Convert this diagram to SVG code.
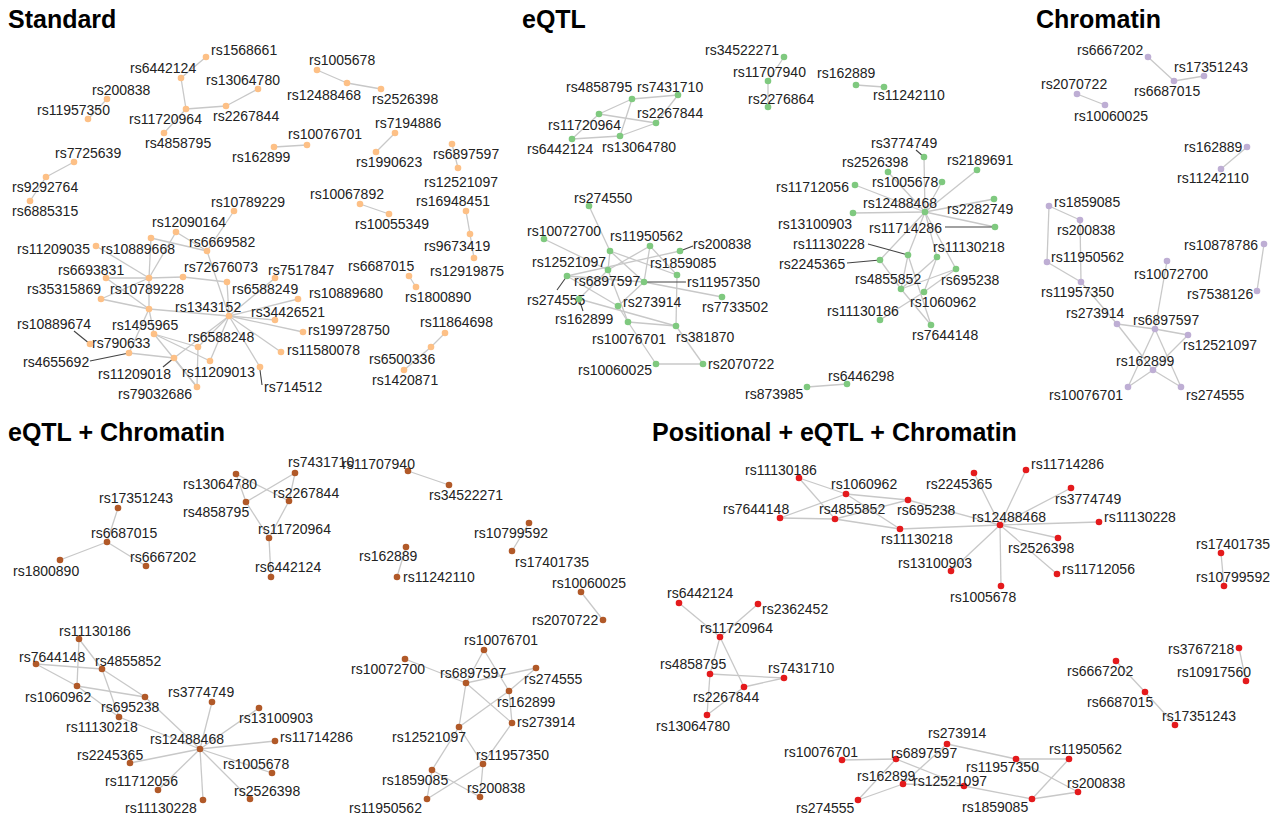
<svg xmlns="http://www.w3.org/2000/svg" width="1279" height="818" viewBox="0 0 1279 818">
<style>
text{font-family:"Liberation Sans",Arial,sans-serif;font-size:14px;fill:#222}
.t{font-size:25px;font-weight:bold;fill:#000}
.e line{stroke:#c8c8c8;stroke-width:1.3}
.ld line{stroke:#444;stroke-width:1.1}
circle{r:3.3px}
.s circle{fill:#fdc086}
.q circle{fill:#7fc97f}
.c circle{fill:#beaed4}
.b circle{fill:#b15928}
.p circle{fill:#e41a1c}
</style>
<rect width="1279" height="818" fill="#fff"/>
<g id="titles">
<text class="t" x="8" y="28">Standard</text>
<text class="t" x="522" y="28">eQTL</text>
<text class="t" x="1036" y="28">Chromatin</text>
<text class="t" x="8" y="441">eQTL + Chromatin</text>
<text class="t" x="652" y="441">Positional + eQTL + Chromatin</text>
</g>
<g id="connectors">
<g class="e">
<!-- Standard -->
<line x1="206" y1="57" x2="181" y2="78"/><line x1="181" y1="78" x2="186" y2="109"/><line x1="186" y1="109" x2="226" y2="106"/><line x1="226" y1="106" x2="258" y2="89"/><line x1="186" y1="109" x2="164" y2="133"/>
<line x1="107" y1="99" x2="88" y2="119"/><line x1="74" y1="162" x2="46" y2="177"/><line x1="46" y1="177" x2="30" y2="201"/>
<line x1="274" y1="147" x2="307" y2="145"/><line x1="317" y1="70" x2="347" y2="83"/><line x1="347" y1="83" x2="381" y2="89"/>
<line x1="395" y1="133" x2="376" y2="152"/><line x1="452" y1="144" x2="458" y2="168"/><line x1="360" y1="204" x2="389" y2="214"/>
<line x1="466" y1="211" x2="470" y2="234"/><line x1="470" y1="234" x2="474" y2="258"/><line x1="409" y1="276" x2="416" y2="287"/>
<line x1="445" y1="333" x2="431" y2="347"/><line x1="431" y1="347" x2="404" y2="370"/>
<line x1="234" y1="211" x2="207" y2="251"/><line x1="176" y1="232" x2="207" y2="251"/><line x1="151" y1="238" x2="207" y2="251"/>
<line x1="96" y1="246" x2="149" y2="278"/><line x1="176" y1="232" x2="149" y2="278"/><line x1="151" y1="238" x2="149" y2="278"/>
<line x1="106" y1="278" x2="149" y2="278"/><line x1="149" y1="278" x2="183" y2="277"/><line x1="183" y1="277" x2="227" y2="282"/>
<line x1="106" y1="278" x2="149" y2="309"/><line x1="101" y1="299" x2="149" y2="278"/><line x1="101" y1="299" x2="149" y2="309"/><line x1="149" y1="278" x2="149" y2="309"/>
<line x1="149" y1="309" x2="229" y2="316"/><line x1="207" y1="251" x2="229" y2="316"/><line x1="227" y1="282" x2="229" y2="316"/><line x1="275" y1="278" x2="229" y2="316"/>
<line x1="298" y1="299" x2="229" y2="316"/><line x1="275" y1="320" x2="229" y2="316"/><line x1="303" y1="332" x2="229" y2="316"/><line x1="281" y1="352" x2="229" y2="316"/>
<line x1="260" y1="367" x2="229" y2="316"/><line x1="210" y1="361" x2="229" y2="316"/><line x1="174" y1="358" x2="229" y2="316"/><line x1="198" y1="347" x2="229" y2="316"/>
<line x1="154" y1="334" x2="149" y2="309"/><line x1="154" y1="334" x2="198" y2="347"/><line x1="154" y1="334" x2="210" y2="361"/><line x1="154" y1="334" x2="197" y2="387"/>
<line x1="149" y1="309" x2="129" y2="353"/><line x1="129" y1="353" x2="174" y2="358"/><line x1="198" y1="347" x2="197" y2="387"/><line x1="174" y1="358" x2="197" y2="387"/>
<!-- eQTL -->
<line x1="632" y1="99" x2="599" y2="114"/><line x1="632" y1="99" x2="620" y2="136"/><line x1="632" y1="99" x2="678" y2="95"/><line x1="599" y1="114" x2="656" y2="123"/>
<line x1="572" y1="139" x2="620" y2="136"/><line x1="572" y1="139" x2="599" y2="114"/><line x1="656" y1="123" x2="678" y2="95"/><line x1="620" y1="136" x2="656" y2="123"/>
<line x1="784" y1="57" x2="768" y2="81"/><line x1="768" y1="81" x2="768" y2="107"/><line x1="856" y1="85" x2="884" y2="87"/>
<line x1="589" y1="206" x2="610" y2="251"/><line x1="544" y1="239" x2="608" y2="270"/><line x1="610" y1="251" x2="677" y2="275"/><line x1="610" y1="251" x2="608" y2="270"/>
<line x1="610" y1="251" x2="644" y2="282"/><line x1="650" y1="246" x2="608" y2="270"/><line x1="650" y1="246" x2="644" y2="282"/><line x1="650" y1="246" x2="677" y2="275"/>
<line x1="567" y1="276" x2="680" y2="251"/><line x1="677" y1="275" x2="676" y2="326"/><line x1="644" y1="282" x2="722" y2="297"/><line x1="644" y1="282" x2="618" y2="306"/>
<line x1="567" y1="276" x2="618" y2="306"/><line x1="608" y1="270" x2="628" y2="322"/><line x1="608" y1="270" x2="579" y2="299"/><line x1="579" y1="299" x2="676" y2="326"/>
<line x1="628" y1="322" x2="676" y2="326"/><line x1="628" y1="322" x2="656" y2="364"/><line x1="676" y1="326" x2="703" y2="364"/><line x1="656" y1="364" x2="703" y2="364"/>
<line x1="618" y1="306" x2="628" y2="322"/><line x1="567" y1="276" x2="644" y2="282"/>
<line x1="807" y1="387" x2="847" y2="384"/>
<line x1="925" y1="212" x2="924" y2="157"/><line x1="925" y1="212" x2="888" y2="172"/><line x1="925" y1="212" x2="942" y2="182"/><line x1="925" y1="212" x2="977" y2="170"/>
<line x1="925" y1="212" x2="855" y2="185"/><line x1="925" y1="212" x2="853" y2="213"/><line x1="925" y1="212" x2="994" y2="199"/><line x1="925" y1="212" x2="995" y2="227"/>
<line x1="925" y1="212" x2="908" y2="255"/><line x1="925" y1="212" x2="956" y2="269"/><line x1="925" y1="212" x2="880" y2="260"/><line x1="925" y1="212" x2="937" y2="257"/>
<line x1="880" y1="260" x2="901" y2="289"/><line x1="908" y1="255" x2="901" y2="289"/><line x1="908" y1="255" x2="931" y2="325"/><line x1="937" y1="257" x2="901" y2="289"/>
<line x1="937" y1="257" x2="924" y2="292"/><line x1="956" y1="269" x2="901" y2="289"/><line x1="956" y1="269" x2="924" y2="292"/><line x1="901" y1="289" x2="931" y2="325"/>
<line x1="924" y1="292" x2="880" y2="320"/>
<!-- Chromatin -->
<line x1="1148" y1="57" x2="1174" y2="81"/><line x1="1174" y1="81" x2="1204" y2="76"/><line x1="1077" y1="94" x2="1105" y2="105"/><line x1="1247" y1="147" x2="1221" y2="169"/>
<line x1="1049" y1="206" x2="1080" y2="220"/><line x1="1049" y1="206" x2="1047" y2="262"/><line x1="1080" y1="220" x2="1081" y2="282"/><line x1="1047" y1="262" x2="1081" y2="282"/>
<line x1="1081" y1="282" x2="1117" y2="324"/><line x1="1264" y1="244" x2="1257" y2="291"/><line x1="1167" y1="261" x2="1155" y2="329"/><line x1="1117" y1="324" x2="1155" y2="329"/>
<line x1="1155" y1="329" x2="1188" y2="335"/><line x1="1117" y1="324" x2="1153" y2="370"/><line x1="1188" y1="335" x2="1153" y2="370"/><line x1="1155" y1="329" x2="1128" y2="387"/>
<line x1="1155" y1="329" x2="1181" y2="387"/><line x1="1153" y1="370" x2="1128" y2="387"/><line x1="1153" y1="370" x2="1181" y2="387"/>
<!-- eQTL + Chromatin -->
<line x1="118" y1="508" x2="107" y2="542"/><line x1="107" y1="542" x2="60" y2="560"/><line x1="107" y1="542" x2="146" y2="566"/>
<line x1="236" y1="474" x2="289" y2="501"/><line x1="236" y1="474" x2="246" y2="502"/><line x1="246" y1="502" x2="295" y2="473"/><line x1="246" y1="502" x2="269" y2="538"/>
<line x1="295" y1="473" x2="289" y2="501"/><line x1="289" y1="501" x2="269" y2="538"/><line x1="269" y1="538" x2="271" y2="577"/>
<line x1="408" y1="471" x2="449" y2="485"/><line x1="529" y1="523" x2="512" y2="551"/><line x1="406" y1="547" x2="397" y2="577"/><line x1="581" y1="592" x2="603" y2="620"/>
<line x1="484" y1="650" x2="466" y2="683"/><line x1="484" y1="650" x2="509" y2="691"/><line x1="405" y1="659" x2="466" y2="683"/><line x1="466" y1="683" x2="536" y2="668"/>
<line x1="536" y1="668" x2="509" y2="691"/><line x1="466" y1="683" x2="512" y2="723"/><line x1="509" y1="691" x2="512" y2="723"/><line x1="509" y1="691" x2="459" y2="727"/>
<line x1="466" y1="683" x2="459" y2="727"/><line x1="459" y1="727" x2="483" y2="764"/><line x1="459" y1="727" x2="432" y2="770"/><line x1="512" y1="723" x2="483" y2="764"/>
<line x1="483" y1="764" x2="480" y2="797"/><line x1="483" y1="764" x2="427" y2="799"/><line x1="432" y1="770" x2="480" y2="797"/><line x1="432" y1="770" x2="427" y2="799"/>
<line x1="79" y1="639" x2="77" y2="686"/><line x1="79" y1="639" x2="102" y2="669"/><line x1="36" y1="664" x2="102" y2="669"/><line x1="36" y1="664" x2="77" y2="686"/>
<line x1="77" y1="686" x2="145" y2="697"/><line x1="102" y1="669" x2="145" y2="697"/><line x1="102" y1="669" x2="119" y2="717"/><line x1="77" y1="686" x2="119" y2="717"/>
<line x1="145" y1="697" x2="200" y2="749"/><line x1="119" y1="717" x2="200" y2="749"/><line x1="200" y1="749" x2="212" y2="702"/><line x1="200" y1="749" x2="259" y2="708"/>
<line x1="200" y1="749" x2="275" y2="741"/><line x1="200" y1="749" x2="130" y2="763"/><line x1="200" y1="749" x2="272" y2="773"/><line x1="200" y1="749" x2="158" y2="790"/>
<line x1="200" y1="749" x2="250" y2="799"/><line x1="200" y1="749" x2="203" y2="800"/>
<!-- Positional -->
<line x1="799" y1="478" x2="846" y2="494"/><line x1="799" y1="478" x2="835" y2="519"/><line x1="846" y1="494" x2="908" y2="500"/><line x1="846" y1="494" x2="780" y2="518"/>
<line x1="846" y1="494" x2="900" y2="529"/><line x1="780" y1="518" x2="835" y2="519"/><line x1="835" y1="519" x2="908" y2="500"/><line x1="835" y1="519" x2="900" y2="529"/>
<line x1="900" y1="529" x2="1000" y2="525"/><line x1="908" y1="500" x2="1000" y2="525"/>
<line x1="1000" y1="525" x2="974" y2="473"/><line x1="1000" y1="525" x2="1026" y2="470"/><line x1="1000" y1="525" x2="1071" y2="488"/><line x1="1000" y1="525" x2="1099" y2="522"/>
<line x1="1000" y1="525" x2="1058" y2="538"/><line x1="1000" y1="525" x2="1057" y2="574"/><line x1="1000" y1="525" x2="1001" y2="586"/><line x1="1000" y1="525" x2="951" y2="571"/>
<line x1="1221" y1="553" x2="1224" y2="586"/><line x1="1239" y1="648" x2="1246" y2="681"/><line x1="1116" y1="661" x2="1145" y2="692"/><line x1="1145" y1="692" x2="1175" y2="725"/>
<line x1="679" y1="603" x2="720" y2="637"/><line x1="758" y1="604" x2="720" y2="637"/><line x1="720" y1="637" x2="710" y2="674"/><line x1="720" y1="637" x2="744" y2="687"/>
<line x1="710" y1="674" x2="784" y2="678"/><line x1="784" y1="678" x2="744" y2="687"/><line x1="710" y1="674" x2="707" y2="715"/><line x1="707" y1="715" x2="744" y2="687"/>
<line x1="842" y1="760" x2="896" y2="759"/><line x1="896" y1="759" x2="858" y2="800"/><line x1="858" y1="800" x2="903" y2="784"/><line x1="903" y1="784" x2="947" y2="744"/>
<line x1="896" y1="759" x2="964" y2="786"/><line x1="903" y1="784" x2="964" y2="786"/><line x1="947" y1="744" x2="1016" y2="759"/><line x1="1016" y1="759" x2="1069" y2="759"/>
<line x1="1016" y1="759" x2="1078" y2="792"/><line x1="964" y1="786" x2="1032" y2="799"/><line x1="1032" y1="799" x2="1069" y2="759"/><line x1="1032" y1="799" x2="1078" y2="792"/>
</g>
<g class="ld">
<line x1="74" y1="331" x2="90" y2="344"/><line x1="90" y1="361" x2="129" y2="353"/><line x1="163" y1="367" x2="174" y2="358"/><line x1="260" y1="370" x2="262" y2="385"/>
<line x1="693" y1="246" x2="680" y2="251"/><line x1="686" y1="282" x2="644" y2="282"/><line x1="557" y1="290" x2="567" y2="276"/><line x1="583" y1="311" x2="579" y2="299"/>
<line x1="916" y1="150" x2="924" y2="157"/><line x1="945" y1="227" x2="995" y2="227"/><line x1="868" y1="244" x2="908" y2="255"/><line x1="847" y1="263" x2="880" y2="260"/>
</g>
</g>
<g id="nodes">
<g class="s">
<g id="s-rs1568661"><circle cx="206" cy="57"/><text x="211" y="55">rs1568661</text></g>
<g id="s-rs6442124"><circle cx="181" cy="78"/><text x="130" y="73">rs6442124</text></g>
<g id="s-rs13064780"><circle cx="258" cy="89"/><text x="206" y="85">rs13064780</text></g>
<g id="s-rs11720964"><circle cx="186" cy="109"/><text x="129" y="124">rs11720964</text></g>
<g id="s-rs2267844"><circle cx="226" cy="106"/><text x="213" y="121">rs2267844</text></g>
<g id="s-rs4858795"><circle cx="164" cy="133"/><text x="145" y="148">rs4858795</text></g>
<g id="s-rs200838"><circle cx="107" cy="99"/><text x="92" y="95">rs200838</text></g>
<g id="s-rs11957350"><circle cx="88" cy="119"/><text x="37" y="115">rs11957350</text></g>
<g id="s-rs7725639"><circle cx="74" cy="162"/><text x="55" y="158">rs7725639</text></g>
<g id="s-rs9292764"><circle cx="46" cy="177"/><text x="12" y="192">rs9292764</text></g>
<g id="s-rs6885315"><circle cx="30" cy="201"/><text x="12" y="216">rs6885315</text></g>
<g id="s-rs162899"><circle cx="274" cy="147"/><text x="232" y="162">rs162899</text></g>
<g id="s-rs10076701"><circle cx="307" cy="145"/><text x="288" y="139">rs10076701</text></g>
<g id="s-rs1005678"><circle cx="317" cy="70"/><text x="309" y="65">rs1005678</text></g>
<g id="s-rs12488468"><circle cx="347" cy="83"/><text x="287" y="100">rs12488468</text></g>
<g id="s-rs2526398"><circle cx="381" cy="89"/><text x="372" y="104">rs2526398</text></g>
<g id="s-rs7194886"><circle cx="395" cy="133"/><text x="375" y="128">rs7194886</text></g>
<g id="s-rs1990623"><circle cx="376" cy="152"/><text x="356" y="167">rs1990623</text></g>
<g id="s-rs6897597"><circle cx="452" cy="144"/><text x="433" y="159">rs6897597</text></g>
<g id="s-rs12521097"><circle cx="458" cy="168"/><text x="424" y="187">rs12521097</text></g>
<g id="s-rs10067892"><circle cx="360" cy="204"/><text x="310" y="199">rs10067892</text></g>
<g id="s-rs10055349"><circle cx="389" cy="214"/><text x="355" y="229">rs10055349</text></g>
<g id="s-rs16948451"><circle cx="466" cy="211"/><text x="416" y="206">rs16948451</text></g>
<g id="s-rs9673419"><circle cx="470" cy="234"/><text x="424" y="251">rs9673419</text></g>
<g id="s-rs12919875"><circle cx="474" cy="258"/><text x="430" y="276">rs12919875</text></g>
<g id="s-rs6687015"><circle cx="409" cy="276"/><text x="348" y="271">rs6687015</text></g>
<g id="s-rs1800890"><circle cx="416" cy="287"/><text x="405" y="302">rs1800890</text></g>
<g id="s-rs11864698"><circle cx="445" cy="333"/><text x="420" y="327">rs11864698</text></g>
<g id="s-rs6500336"><circle cx="431" cy="347"/><text x="369" y="364">rs6500336</text></g>
<g id="s-rs1420871"><circle cx="404" cy="370"/><text x="372" y="385">rs1420871</text></g>
<g id="s-rs10789229"><circle cx="234" cy="211"/><text x="211" y="207">rs10789229</text></g>
<g id="s-rs12090164"><circle cx="176" cy="232"/><text x="152" y="227">rs12090164</text></g>
<g id="s-rs10889668"><circle cx="151" cy="238"/><text x="101" y="254">rs10889668</text></g>
<g id="s-rs11209035"><circle cx="96" cy="246"/><text x="17" y="254">rs11209035</text></g>
<g id="s-rs6669582"><circle cx="207" cy="251"/><text x="189" y="247">rs6669582</text></g>
<g id="s-rs6693831"><circle cx="106" cy="278"/><text x="58" y="275">rs6693831</text></g>
<g id="s-rs10789228"><circle cx="149" cy="278"/><text x="110" y="294">rs10789228</text></g>
<g id="s-rs72676073"><circle cx="183" cy="277"/><text x="184" y="272">rs72676073</text></g>
<g id="s-rs6588249"><circle cx="227" cy="282"/><text x="232" y="294">rs6588249</text></g>
<g id="s-rs7517847"><circle cx="275" cy="278"/><text x="268" y="275">rs7517847</text></g>
<g id="s-rs35315869"><circle cx="101" cy="299"/><text x="27" y="294">rs35315869</text></g>
<g id="s-rs1343152"><circle cx="229" cy="316"/><text x="175" y="312">rs1343152</text></g>
<g id="s-rs1495965"><circle cx="149" cy="309"/><text x="112" y="330">rs1495965</text></g>
<g id="s-rs790633"><circle cx="154" cy="334"/><text x="92" y="348">rs790633</text></g>
<g id="s-rs10889680"><circle cx="298" cy="299"/><text x="309" y="298">rs10889680</text></g>
<g id="s-rs34426521"><circle cx="275" cy="320"/><text x="251" y="317">rs34426521</text></g>
<g id="s-rs199728750"><circle cx="303" cy="332"/><text x="308" y="335">rs199728750</text></g>
<g id="s-rs11580078"><circle cx="281" cy="352"/><text x="287" y="355">rs11580078</text></g>
<g id="s-rs714512"><circle cx="260" cy="367"/><text x="264" y="392">rs714512</text></g>
<g id="s-rs10889674"><circle cx="90" cy="344"/><text x="17" y="329">rs10889674</text></g>
<g id="s-rs4655692"><circle cx="129" cy="353"/><text x="23" y="367">rs4655692</text></g>
<g id="s-rs6588248"><circle cx="198" cy="347"/><text x="188" y="342">rs6588248</text></g>
<g id="s-rs11209018"><circle cx="174" cy="358"/><text x="98" y="379">rs11209018</text></g>
<g id="s-rs11209013"><circle cx="210" cy="361"/><text x="182" y="377">rs11209013</text></g>
<g id="s-rs79032686"><circle cx="197" cy="387"/><text x="118" y="399">rs79032686</text></g>
</g>
<g class="q">
<g id="q-rs4858795"><circle cx="632" cy="99"/><text x="566" y="92">rs4858795</text></g>
<g id="q-rs7431710"><circle cx="678" cy="95"/><text x="637" y="92">rs7431710</text></g>
<g id="q-rs11720964"><circle cx="599" cy="114"/><text x="548" y="130">rs11720964</text></g>
<g id="q-rs2267844"><circle cx="656" cy="123"/><text x="637" y="118">rs2267844</text></g>
<g id="q-rs6442124"><circle cx="572" cy="139"/><text x="527" y="154">rs6442124</text></g>
<g id="q-rs13064780"><circle cx="620" cy="136"/><text x="602" y="152">rs13064780</text></g>
<g id="q-rs34522271"><circle cx="784" cy="57"/><text x="705" y="55">rs34522271</text></g>
<g id="q-rs11707940"><circle cx="768" cy="81"/><text x="733" y="77">rs11707940</text></g>
<g id="q-rs2276864"><circle cx="768" cy="107"/><text x="748" y="104">rs2276864</text></g>
<g id="q-rs162889"><circle cx="856" cy="85"/><text x="817" y="78">rs162889</text></g>
<g id="q-rs11242110"><circle cx="884" cy="87"/><text x="873" y="100">rs11242110</text></g>
<g id="q-rs274550"><circle cx="589" cy="206"/><text x="574" y="203">rs274550</text></g>
<g id="q-rs10072700"><circle cx="544" cy="239"/><text x="527" y="236">rs10072700</text></g>
<g id="q-rs11950562"><circle cx="650" cy="246"/><text x="610" y="241">rs11950562</text></g>
<g id="q-rs12521097"><circle cx="610" cy="251"/><text x="532" y="267">rs12521097</text></g>
<g id="q-rs200838"><circle cx="680" cy="251"/><text x="693" y="249">rs200838</text></g>
<g id="q-rs1859085"><circle cx="677" cy="275"/><text x="650" y="268">rs1859085</text></g>
<g id="q-rs6897597"><circle cx="608" cy="270"/><text x="574" y="286">rs6897597</text></g>
<g id="q-rs11957350"><circle cx="644" cy="282"/><text x="687" y="287">rs11957350</text></g>
<g id="q-rs274555"><circle cx="567" cy="276"/><text x="527" y="305">rs274555</text></g>
<g id="q-rs162899"><circle cx="579" cy="299"/><text x="555" y="324">rs162899</text></g>
<g id="q-rs273914"><circle cx="618" cy="306"/><text x="623" y="307">rs273914</text></g>
<g id="q-rs7733502"><circle cx="722" cy="297"/><text x="702" y="312">rs7733502</text></g>
<g id="q-rs10076701"><circle cx="628" cy="322"/><text x="592" y="344">rs10076701</text></g>
<g id="q-rs381870"><circle cx="676" cy="326"/><text x="676" y="342">rs381870</text></g>
<g id="q-rs10060025"><circle cx="656" cy="364"/><text x="578" y="375">rs10060025</text></g>
<g id="q-rs2070722"><circle cx="703" cy="364"/><text x="708" y="369">rs2070722</text></g>
<g id="q-rs873985"><circle cx="807" cy="387"/><text x="745" y="399">rs873985</text></g>
<g id="q-rs6446298"><circle cx="847" cy="384"/><text x="828" y="381">rs6446298</text></g>
<g id="q-rs3774749"><circle cx="924" cy="157"/><text x="871" y="148">rs3774749</text></g>
<g id="q-rs2526398"><circle cx="888" cy="172"/><text x="842" y="167">rs2526398</text></g>
<g id="q-rs2189691"><circle cx="977" cy="170"/><text x="947" y="165">rs2189691</text></g>
<g id="q-rs1005678"><circle cx="942" cy="182"/><text x="872" y="187">rs1005678</text></g>
<g id="q-rs11712056"><circle cx="855" cy="185"/><text x="776" y="192">rs11712056</text></g>
<g id="q-rs12488468"><circle cx="925" cy="212"/><text x="863" y="208">rs12488468</text></g>
<g id="q-rs2282749"><circle cx="994" cy="199"/><text x="947" y="214">rs2282749</text></g>
<g id="q-rs13100903"><circle cx="853" cy="213"/><text x="778" y="229">rs13100903</text></g>
<g id="q-rs11714286"><circle cx="995" cy="227"/><text x="869" y="233">rs11714286</text></g>
<g id="q-rs11130228"><circle cx="908" cy="255"/><text x="793" y="249">rs11130228</text></g>
<g id="q-rs11130218"><circle cx="937" cy="257"/><text x="933" y="252">rs11130218</text></g>
<g id="q-rs2245365"><circle cx="880" cy="260"/><text x="779" y="269">rs2245365</text></g>
<g id="q-rs695238"><circle cx="956" cy="269"/><text x="941" y="285">rs695238</text></g>
<g id="q-rs4855852"><circle cx="901" cy="289"/><text x="855" y="284">rs4855852</text></g>
<g id="q-rs1060962"><circle cx="924" cy="292"/><text x="910" y="307">rs1060962</text></g>
<g id="q-rs11130186"><circle cx="880" cy="320"/><text x="827" y="316">rs11130186</text></g>
<g id="q-rs7644148"><circle cx="931" cy="325"/><text x="912" y="340">rs7644148</text></g>
</g>
<g class="c">
<g id="c-rs6667202"><circle cx="1148" cy="57"/><text x="1077" y="55">rs6667202</text></g>
<g id="c-rs17351243"><circle cx="1204" cy="76"/><text x="1174" y="72">rs17351243</text></g>
<g id="c-rs6687015"><circle cx="1174" cy="81"/><text x="1134" y="96">rs6687015</text></g>
<g id="c-rs2070722"><circle cx="1077" cy="94"/><text x="1041" y="89">rs2070722</text></g>
<g id="c-rs10060025"><circle cx="1105" cy="105"/><text x="1074" y="121">rs10060025</text></g>
<g id="c-rs162889"><circle cx="1247" cy="147"/><text x="1184" y="152">rs162889</text></g>
<g id="c-rs11242110"><circle cx="1221" cy="169"/><text x="1177" y="183">rs11242110</text></g>
<g id="c-rs1859085"><circle cx="1049" cy="206"/><text x="1054" y="207">rs1859085</text></g>
<g id="c-rs200838"><circle cx="1080" cy="220"/><text x="1057" y="235">rs200838</text></g>
<g id="c-rs11950562"><circle cx="1047" cy="262"/><text x="1051" y="262">rs11950562</text></g>
<g id="c-rs11957350"><circle cx="1081" cy="282"/><text x="1041" y="297">rs11957350</text></g>
<g id="c-rs10878786"><circle cx="1264" cy="244"/><text x="1184" y="250">rs10878786</text></g>
<g id="c-rs7538126"><circle cx="1257" cy="291"/><text x="1187" y="299">rs7538126</text></g>
<g id="c-rs10072700"><circle cx="1167" cy="261"/><text x="1134" y="279">rs10072700</text></g>
<g id="c-rs273914"><circle cx="1117" cy="324"/><text x="1066" y="318">rs273914</text></g>
<g id="c-rs6897597"><circle cx="1155" cy="329"/><text x="1133" y="325">rs6897597</text></g>
<g id="c-rs12521097"><circle cx="1188" cy="335"/><text x="1183" y="350">rs12521097</text></g>
<g id="c-rs162899"><circle cx="1153" cy="370"/><text x="1116" y="366">rs162899</text></g>
<g id="c-rs10076701"><circle cx="1128" cy="387"/><text x="1049" y="400">rs10076701</text></g>
<g id="c-rs274555"><circle cx="1181" cy="387"/><text x="1186" y="400">rs274555</text></g>
</g>
<g class="b">
<g id="b-rs17351243"><circle cx="118" cy="508"/><text x="99" y="503">rs17351243</text></g>
<g id="b-rs6687015"><circle cx="107" cy="542"/><text x="91" y="538">rs6687015</text></g>
<g id="b-rs6667202"><circle cx="146" cy="566"/><text x="130" y="562">rs6667202</text></g>
<g id="b-rs1800890"><circle cx="60" cy="560"/><text x="13" y="576">rs1800890</text></g>
<g id="b-rs13064780"><circle cx="236" cy="474"/><text x="183" y="489">rs13064780</text></g>
<g id="b-rs7431710"><circle cx="295" cy="473"/><text x="288" y="467">rs7431710</text></g>
<g id="b-rs4858795"><circle cx="246" cy="502"/><text x="183" y="517">rs4858795</text></g>
<g id="b-rs2267844"><circle cx="289" cy="501"/><text x="273" y="498">rs2267844</text></g>
<g id="b-rs11720964"><circle cx="269" cy="538"/><text x="258" y="534">rs11720964</text></g>
<g id="b-rs6442124"><circle cx="271" cy="577"/><text x="255" y="572">rs6442124</text></g>
<g id="b-rs11707940"><circle cx="408" cy="471"/><text x="342" y="469">rs11707940</text></g>
<g id="b-rs34522271"><circle cx="449" cy="485"/><text x="429" y="500">rs34522271</text></g>
<g id="b-rs10799592"><circle cx="529" cy="523"/><text x="474" y="538">rs10799592</text></g>
<g id="b-rs17401735"><circle cx="512" cy="551"/><text x="515" y="567">rs17401735</text></g>
<g id="b-rs162889"><circle cx="406" cy="547"/><text x="359" y="561">rs162889</text></g>
<g id="b-rs11242110"><circle cx="397" cy="577"/><text x="403" y="582">rs11242110</text></g>
<g id="b-rs10060025"><circle cx="581" cy="592"/><text x="552" y="588">rs10060025</text></g>
<g id="b-rs2070722"><circle cx="603" cy="620"/><text x="532" y="625">rs2070722</text></g>
<g id="b-rs10076701"><circle cx="484" cy="650"/><text x="464" y="645">rs10076701</text></g>
<g id="b-rs10072700"><circle cx="405" cy="659"/><text x="351" y="674">rs10072700</text></g>
<g id="b-rs6897597"><circle cx="466" cy="683"/><text x="440" y="678">rs6897597</text></g>
<g id="b-rs274555"><circle cx="536" cy="668"/><text x="524" y="684">rs274555</text></g>
<g id="b-rs162899"><circle cx="509" cy="691"/><text x="497" y="707">rs162899</text></g>
<g id="b-rs273914"><circle cx="512" cy="723"/><text x="517" y="727">rs273914</text></g>
<g id="b-rs12521097"><circle cx="459" cy="727"/><text x="392" y="742">rs12521097</text></g>
<g id="b-rs11957350"><circle cx="483" cy="764"/><text x="476" y="760">rs11957350</text></g>
<g id="b-rs1859085"><circle cx="432" cy="770"/><text x="382" y="785">rs1859085</text></g>
<g id="b-rs200838"><circle cx="480" cy="797"/><text x="467" y="793">rs200838</text></g>
<g id="b-rs11950562"><circle cx="427" cy="799"/><text x="349" y="813">rs11950562</text></g>
<g id="b-rs11130186"><circle cx="79" cy="639"/><text x="59" y="636">rs11130186</text></g>
<g id="b-rs7644148"><circle cx="36" cy="664"/><text x="19" y="662">rs7644148</text></g>
<g id="b-rs4855852"><circle cx="102" cy="669"/><text x="95" y="666">rs4855852</text></g>
<g id="b-rs1060962"><circle cx="77" cy="686"/><text x="25" y="702">rs1060962</text></g>
<g id="b-rs695238"><circle cx="145" cy="697"/><text x="101" y="712">rs695238</text></g>
<g id="b-rs3774749"><circle cx="212" cy="702"/><text x="168" y="697">rs3774749</text></g>
<g id="b-rs11130218"><circle cx="119" cy="717"/><text x="66" y="732">rs11130218</text></g>
<g id="b-rs13100903"><circle cx="259" cy="708"/><text x="239" y="723">rs13100903</text></g>
<g id="b-rs12488468"><circle cx="200" cy="749"/><text x="150" y="744">rs12488468</text></g>
<g id="b-rs11714286"><circle cx="275" cy="741"/><text x="280" y="742">rs11714286</text></g>
<g id="b-rs2245365"><circle cx="130" cy="763"/><text x="77" y="760">rs2245365</text></g>
<g id="b-rs1005678"><circle cx="272" cy="773"/><text x="223" y="769">rs1005678</text></g>
<g id="b-rs11712056"><circle cx="158" cy="790"/><text x="105" y="786">rs11712056</text></g>
<g id="b-rs2526398"><circle cx="250" cy="799"/><text x="234" y="796">rs2526398</text></g>
<g id="b-rs11130228"><circle cx="203" cy="800"/><text x="125" y="813">rs11130228</text></g>
</g>
<g class="p">
<g id="p-rs11130186"><circle cx="799" cy="478"/><text x="745" y="475">rs11130186</text></g>
<g id="p-rs1060962"><circle cx="846" cy="494"/><text x="831" y="489">rs1060962</text></g>
<g id="p-rs2245365"><circle cx="974" cy="473"/><text x="926" y="489">rs2245365</text></g>
<g id="p-rs695238"><circle cx="908" cy="500"/><text x="897" y="515">rs695238</text></g>
<g id="p-rs7644148"><circle cx="780" cy="518"/><text x="723" y="514">rs7644148</text></g>
<g id="p-rs4855852"><circle cx="835" cy="519"/><text x="819" y="514">rs4855852</text></g>
<g id="p-rs11130218"><circle cx="900" cy="529"/><text x="881" y="544">rs11130218</text></g>
<g id="p-rs13100903"><circle cx="951" cy="571"/><text x="898" y="568">rs13100903</text></g>
<g id="p-rs12488468"><circle cx="1000" cy="525"/><text x="972" y="522">rs12488468</text></g>
<g id="p-rs11714286"><circle cx="1026" cy="470"/><text x="1031" y="469">rs11714286</text></g>
<g id="p-rs3774749"><circle cx="1071" cy="488"/><text x="1055" y="504">rs3774749</text></g>
<g id="p-rs11130228"><circle cx="1099" cy="522"/><text x="1104" y="522">rs11130228</text></g>
<g id="p-rs2526398"><circle cx="1058" cy="538"/><text x="1008" y="553">rs2526398</text></g>
<g id="p-rs11712056"><circle cx="1057" cy="574"/><text x="1062" y="574">rs11712056</text></g>
<g id="p-rs1005678"><circle cx="1001" cy="586"/><text x="950" y="602">rs1005678</text></g>
<g id="p-rs17401735"><circle cx="1221" cy="553"/><text x="1196" y="549">rs17401735</text></g>
<g id="p-rs10799592"><circle cx="1224" cy="586"/><text x="1196" y="582">rs10799592</text></g>
<g id="p-rs3767218"><circle cx="1239" cy="648"/><text x="1168" y="654">rs3767218</text></g>
<g id="p-rs10917560"><circle cx="1246" cy="681"/><text x="1177" y="677">rs10917560</text></g>
<g id="p-rs6667202"><circle cx="1116" cy="661"/><text x="1067" y="676">rs6667202</text></g>
<g id="p-rs6687015"><circle cx="1145" cy="692"/><text x="1087" y="707">rs6687015</text></g>
<g id="p-rs17351243"><circle cx="1175" cy="725"/><text x="1162" y="721">rs17351243</text></g>
<g id="p-rs6442124"><circle cx="679" cy="603"/><text x="667" y="598">rs6442124</text></g>
<g id="p-rs2362452"><circle cx="758" cy="604"/><text x="762" y="614">rs2362452</text></g>
<g id="p-rs11720964"><circle cx="720" cy="637"/><text x="700" y="633">rs11720964</text></g>
<g id="p-rs4858795"><circle cx="710" cy="674"/><text x="660" y="669">rs4858795</text></g>
<g id="p-rs7431710"><circle cx="784" cy="678"/><text x="768" y="673">rs7431710</text></g>
<g id="p-rs2267844"><circle cx="744" cy="687"/><text x="693" y="702">rs2267844</text></g>
<g id="p-rs13064780"><circle cx="707" cy="715"/><text x="656" y="731">rs13064780</text></g>
<g id="p-rs10076701"><circle cx="842" cy="760"/><text x="784" y="757">rs10076701</text></g>
<g id="p-rs6897597"><circle cx="896" cy="759"/><text x="891" y="758">rs6897597</text></g>
<g id="p-rs273914"><circle cx="947" cy="744"/><text x="928" y="738">rs273914</text></g>
<g id="p-rs162899"><circle cx="903" cy="784"/><text x="857" y="781">rs162899</text></g>
<g id="p-rs274555"><circle cx="858" cy="800"/><text x="796" y="813">rs274555</text></g>
<g id="p-rs12521097"><circle cx="964" cy="786"/><text x="913" y="786">rs12521097</text></g>
<g id="p-rs11957350"><circle cx="1016" cy="759"/><text x="966" y="772">rs11957350</text></g>
<g id="p-rs11950562"><circle cx="1069" cy="759"/><text x="1049" y="754">rs11950562</text></g>
<g id="p-rs200838"><circle cx="1078" cy="792"/><text x="1067" y="788">rs200838</text></g>
<g id="p-rs1859085"><circle cx="1032" cy="799"/><text x="962" y="812">rs1859085</text></g>
</g>
</g>
</svg>
